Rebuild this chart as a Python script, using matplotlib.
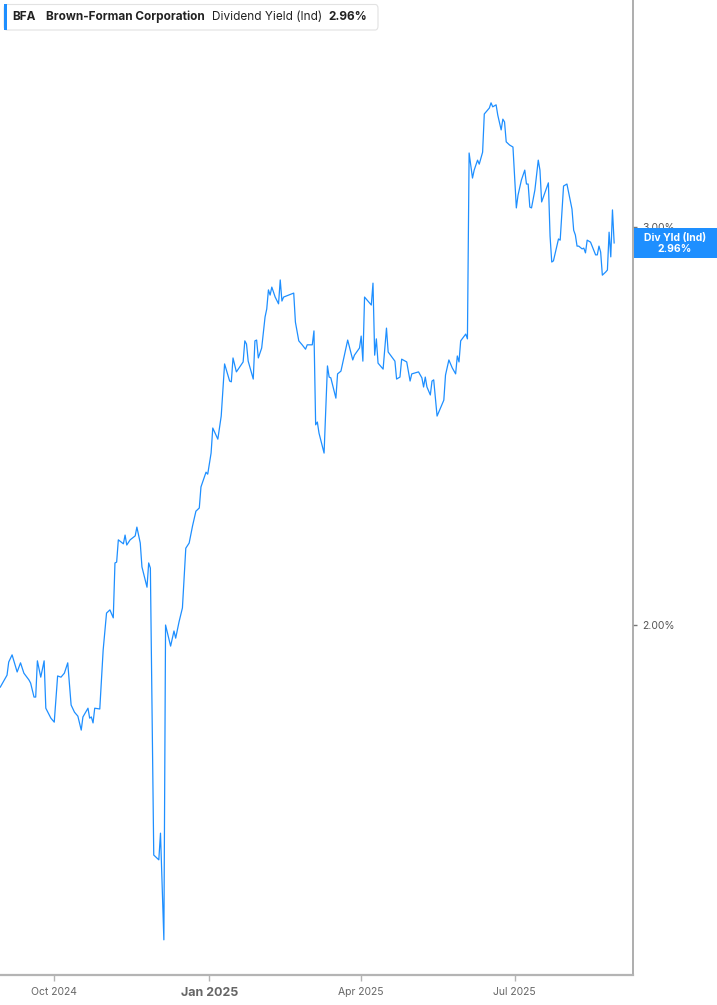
import matplotlib
matplotlib.use("Agg")
import matplotlib.pyplot as plt
import matplotlib.transforms as mtransforms
from matplotlib.patches import FancyBboxPatch, Rectangle
import pandas as pd

plt.rcParams['font.family'] = ['Inter', 'DejaVu Sans']

# dividend yield (%)
dates = [
    "2024-08-30", "2024-09-03", "2024-09-04", "2024-09-06", "2024-09-09", "2024-09-11",
    "2024-09-13", "2024-09-16", "2024-09-17", "2024-09-19", "2024-09-20", "2024-09-21",
    "2024-09-23", "2024-09-25", "2024-09-26", "2024-09-29", "2024-10-01", "2024-10-03",
    "2024-10-05", "2024-10-07", "2024-10-09", "2024-10-11", "2024-10-13", "2024-10-15",
    "2024-10-17", "2024-10-18", "2024-10-21", "2024-10-22", "2024-10-23", "2024-10-24",
    "2024-10-25", "2024-10-28", "2024-10-30", "2024-11-01", "2024-11-03", "2024-11-05",
    "2024-11-06", "2024-11-07", "2024-11-08", "2024-11-11", "2024-11-12", "2024-11-13",
    "2024-11-15", "2024-11-18", "2024-11-19", "2024-11-21", "2024-11-22", "2024-11-25",
    "2024-11-26", "2024-11-27", "2024-11-29", "2024-12-02", "2024-12-03", "2024-12-05",
    "2024-12-06", "2024-12-09", "2024-12-11", "2024-12-12", "2024-12-14", "2024-12-16",
    "2024-12-18", "2024-12-20", "2024-12-22", "2024-12-24", "2024-12-26", "2024-12-27",
    "2024-12-30", "2024-12-31", "2025-01-02", "2025-01-03", "2025-01-06", "2025-01-08",
    "2025-01-10", "2025-01-13", "2025-01-14", "2025-01-15", "2025-01-17", "2025-01-21",
    "2025-01-22", "2025-01-23", "2025-01-24", "2025-01-27", "2025-01-28", "2025-01-29",
    "2025-01-30", "2025-02-01", "2025-02-03", "2025-02-04", "2025-02-05", "2025-02-06",
    "2025-02-07", "2025-02-09", "2025-02-11", "2025-02-12", "2025-02-13", "2025-02-14",
    "2025-02-20", "2025-02-21", "2025-02-23", "2025-02-25", "2025-02-27", "2025-02-28",
    "2025-03-03", "2025-03-04", "2025-03-05", "2025-03-06", "2025-03-07", "2025-03-10",
    "2025-03-12", "2025-03-13", "2025-03-14", "2025-03-17", "2025-03-18", "2025-03-20",
    "2025-03-23", "2025-03-24", "2025-03-27", "2025-03-28", "2025-03-31", "2025-04-01",
    "2025-04-02", "2025-04-03", "2025-04-07", "2025-04-08", "2025-04-09", "2025-04-10",
    "2025-04-11", "2025-04-14", "2025-04-16", "2025-04-17", "2025-04-21", "2025-04-22",
    "2025-04-24", "2025-04-25", "2025-04-28", "2025-04-30", "2025-05-01", "2025-05-05",
    "2025-05-07", "2025-05-08", "2025-05-09", "2025-05-10", "2025-05-12", "2025-05-13",
    "2025-05-14", "2025-05-16", "2025-05-20", "2025-05-21", "2025-05-23", "2025-05-25",
    "2025-05-27", "2025-05-28", "2025-05-29", "2025-05-30", "2025-06-02", "2025-06-03",
    "2025-06-04", "2025-06-06", "2025-06-07", "2025-06-09", "2025-06-10", "2025-06-12",
    "2025-06-13", "2025-06-15", "2025-06-16", "2025-06-17", "2025-06-18", "2025-06-20",
    "2025-06-21", "2025-06-23", "2025-06-24", "2025-06-25", "2025-06-26", "2025-06-28",
    "2025-06-30", "2025-07-02", "2025-07-03", "2025-07-05", "2025-07-07", "2025-07-08",
    "2025-07-09", "2025-07-10", "2025-07-11", "2025-07-13", "2025-07-15", "2025-07-16",
    "2025-07-17", "2025-07-21", "2025-07-22", "2025-07-23", "2025-07-24", "2025-07-27",
    "2025-07-28", "2025-07-30", "2025-08-01", "2025-08-04", "2025-08-05", "2025-08-06",
    "2025-08-07", "2025-08-08", "2025-08-10", "2025-08-11", "2025-08-12", "2025-08-13",
    "2025-08-15", "2025-08-18", "2025-08-19", "2025-08-20", "2025-08-21", "2025-08-22",
    "2025-08-24", "2025-08-25", "2025-08-26", "2025-08-27", "2025-08-28", "2025-08-29",
]
yields = [
    1.844, 1.874, 1.907, 1.925, 1.882, 1.905,
    1.879, 1.862, 1.854, 1.819, 1.819, 1.910,
    1.869, 1.910, 1.791, 1.766, 1.756, 1.872,
    1.869, 1.879, 1.905, 1.799, 1.781, 1.771,
    1.736, 1.769, 1.791, 1.766, 1.769, 1.754,
    1.791, 1.789, 1.937, 2.030, 2.038, 2.018,
    2.156, 2.158, 2.214, 2.204, 2.226, 2.201,
    2.214, 2.224, 2.246, 2.206, 2.146, 2.095,
    2.156, 2.143, 1.422, 1.410, 1.477, 1.209,
    2.000, 1.947, 1.985, 1.967, 2.008, 2.043,
    2.193, 2.206, 2.249, 2.286, 2.294, 2.347,
    2.384, 2.379, 2.432, 2.495, 2.467, 2.525,
    2.656, 2.613, 2.611, 2.671, 2.636, 2.661,
    2.714, 2.706, 2.663, 2.618, 2.714, 2.716,
    2.671, 2.696, 2.774, 2.794, 2.842, 2.829,
    2.849, 2.824, 2.807, 2.867, 2.814, 2.824,
    2.834, 2.761, 2.714, 2.704, 2.693, 2.704,
    2.704, 2.739, 2.503, 2.510, 2.482, 2.432,
    2.651, 2.623, 2.621, 2.570, 2.631, 2.638,
    2.696, 2.716, 2.666, 2.678, 2.696, 2.726,
    2.663, 2.824, 2.804, 2.859, 2.678, 2.719,
    2.658, 2.643, 2.746, 2.686, 2.663, 2.618,
    2.623, 2.668, 2.661, 2.613, 2.631, 2.636,
    2.621, 2.598, 2.623, 2.598, 2.578, 2.613,
    2.616, 2.525, 2.565, 2.628, 2.666, 2.646,
    2.631, 2.676, 2.661, 2.714, 2.731, 2.719,
    3.186, 3.123, 3.143, 3.168, 3.158, 3.188,
    3.284, 3.294, 3.299, 3.312, 3.302, 3.307,
    3.281, 3.244, 3.271, 3.264, 3.214, 3.206,
    3.201, 3.048, 3.080, 3.118, 3.143, 3.108,
    3.108, 3.050, 3.048, 3.093, 3.168, 3.143,
    3.063, 3.111, 2.977, 2.912, 2.915, 2.970,
    2.967, 3.103, 3.108, 3.045, 2.992, 2.980,
    2.952, 2.952, 2.945, 2.947, 2.935, 2.967,
    2.962, 2.930, 2.930, 2.952, 2.937, 2.879,
    2.887, 2.892, 2.987, 2.925, 3.043, 2.960,
]

ticker = "BFA"
company = "Brown-Forman Corporation"
metric = "Dividend Yield (Ind)"
last_value = 2.96
xtick_dates = ["2024-10-01", "2025-01-01", "2025-04-01", "2025-07-01"]
xtick_labels = ["Oct 2024", "Jan 2025", "Apr 2025", "Jul 2025"]
ytick_values = [2.0, 3.0]
ytick_labels = ["2.00%", "3.00%"]

blue = "#1e8fff"
W, H = 717, 1005

fig = plt.figure(figsize=(W / 100, H / 100), dpi=100)
ax = fig.add_axes([0, 30.3 / H, 632.7 / W, 1 - 30.3 / H])

ax.plot(pd.to_datetime(dates), yields, color=blue, lw=0.9)

ax.set_xlim(pd.Timestamp("2024-08-29 20:00"), pd.Timestamp("2025-09-09"))
ax.set_ylim(1.1214, 3.5704)

for side in ["left", "top"]:
    ax.spines[side].set_visible(False)
ax.spines["right"].set_color("#a0a0a0")
ax.spines["right"].set_linewidth(1.2)
ax.spines["bottom"].set_color("#b4b4b4")
ax.spines["bottom"].set_linewidth(1.6)

ax.yaxis.tick_right()
ax.set_yticks(ytick_values, ytick_labels)
ax.tick_params(axis="y", length=3, width=1, color="#777777", labelsize=7.5,
               labelcolor="#555555", pad=4)
ax.set_xticks(pd.to_datetime(xtick_dates), xtick_labels)
ax.tick_params(axis="x", length=4, width=1, color="#b4b4b4", labelsize=7.5,
               labelcolor="#666666", pad=5)
jan = ax.get_xticklabels()[1]
jan.set_fontweight("bold")
jan.set_fontsize(9)

# last value flag on the right axis
trans = mtransforms.blended_transform_factory(fig.transFigure, ax.transData)
box_h = 30 / 398
ax.add_patch(Rectangle((633.5 / W, last_value - box_h / 2), 84 / W, box_h,
                       transform=trans, facecolor=blue, edgecolor="none",
                       clip_on=False, zorder=5))
ax.text(675 / W, last_value + 0.013, "Div Yld (Ind)", transform=trans, ha="center",
        va="center", color="white", fontsize=7.5, fontweight="bold", zorder=6)
ax.text(675 / W, last_value - 0.016, f"{last_value:.2f}%", transform=trans,
        ha="center", va="center", color="white", fontsize=7.5, fontweight="bold",
        zorder=6)

# header legend
fig.patches.append(FancyBboxPatch((4 / W, 1 - 30 / H), 374 / W, 25.5 / H,
                                  boxstyle="round,pad=0,rounding_size=0.004",
                                  transform=fig.transFigure, facecolor="white",
                                  edgecolor="#e2e2e2", lw=0.8))
fig.patches.append(Rectangle((4 / W, 1 - 30 / H), 3 / W, 25.5 / H,
                             transform=fig.transFigure, facecolor=blue,
                             edgecolor="none"))
hy = 1 - 17 / H
fig.text(12.5 / W, hy, ticker, fontsize=8.5, fontweight="bold", color="#222222", va="center")
fig.text(45.5 / W, hy, company, fontsize=8.5, fontweight="bold", color="#222222", va="center")
fig.text(212 / W, hy, metric, fontsize=8.5, color="#222222", va="center")
fig.text(328.5 / W, hy, f"{last_value:.2f}%", fontsize=8.5, fontweight="bold",
         color="#222222", va="center")

fig.savefig("out.png", dpi=100)
